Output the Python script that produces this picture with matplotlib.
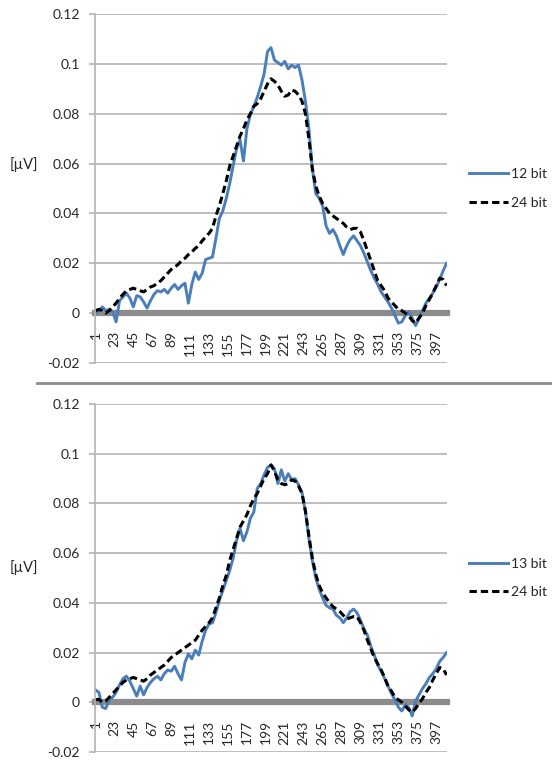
import numpy as np
import matplotlib
matplotlib.use("Agg")
import matplotlib.pyplot as plt
from matplotlib.lines import Line2D

plt.rcParams['font.family'] = ['Lato', 'DejaVu Sans']

# sample index of every value below (one reading every 4 samples)
samples = list(range(1, 410, 4))

x_ticks = list(range(1, 398, 22))
x_tick_labels = [str(t) for t in x_ticks]
y_ticks = [-0.02, 0, 0.02, 0.04, 0.06, 0.08, 0.1, 0.12]
y_tick_labels = ["-0.02", "0", "0.02", "0.04", "0.06", "0.08", "0.1", "0.12"]

top_12bit = [
    0.000, 0.001, 0.0025, 0.001, 0.0015, 0.0005, -0.0035, 0.005, 0.0065, 0.008,
    0.006, 0.0025, 0.007, 0.0065, 0.0045, 0.002, 0.005, 0.0075, 0.009, 0.0085,
    0.0095, 0.008, 0.010, 0.0115, 0.0095, 0.011, 0.012, 0.004, 0.0115, 0.0165,
    0.0135, 0.016, 0.0215, 0.022, 0.0225, 0.030, 0.038, 0.041, 0.046, 0.052,
    0.059, 0.066, 0.0695, 0.061, 0.074, 0.0795, 0.083, 0.0865, 0.091, 0.096,
    0.105, 0.1065, 0.1015, 0.1005, 0.0995, 0.101, 0.098, 0.0995, 0.0985, 0.0995,
    0.0935, 0.085, 0.074, 0.058, 0.048, 0.046, 0.043, 0.035, 0.032, 0.0335,
    0.031, 0.027, 0.0235, 0.027, 0.0295, 0.031, 0.029, 0.027, 0.024, 0.0205,
    0.017, 0.014, 0.0115, 0.0085, 0.0065, 0.0045, 0.002, -0.001, -0.004, -0.0035,
    -0.001, 0.0005, -0.002, -0.005, -0.002, 0.001, 0.004, 0.006, 0.008, 0.0105,
    0.0135, 0.017, 0.020,
]

top_24bit = [
    0.001, 0.0015, 0.001, 0.000, 0.001, 0.0025, 0.004, 0.006, 0.0075, 0.009,
    0.0095, 0.010, 0.0095, 0.009, 0.0085, 0.0095, 0.0105, 0.011, 0.012, 0.013,
    0.0145, 0.016, 0.0175, 0.0185, 0.0195, 0.021, 0.022, 0.0235, 0.0245, 0.026,
    0.027, 0.029, 0.0305, 0.032, 0.034, 0.039, 0.043, 0.048, 0.053, 0.059,
    0.063, 0.067, 0.071, 0.074, 0.0775, 0.080, 0.083, 0.084, 0.086, 0.089,
    0.092, 0.094, 0.093, 0.0915, 0.089, 0.087, 0.0875, 0.0895, 0.089, 0.0875,
    0.085, 0.080, 0.070, 0.058, 0.051, 0.047, 0.044, 0.042, 0.040, 0.039,
    0.038, 0.037, 0.036, 0.0345, 0.0335, 0.034, 0.034, 0.0325, 0.029, 0.025,
    0.021, 0.017, 0.013, 0.011, 0.009, 0.006, 0.0045, 0.003, 0.0015, 0.001,
    0.000, -0.001, -0.003, -0.004, -0.002, 0.000, 0.003, 0.0055, 0.008, 0.011,
    0.014, 0.0135, 0.011,
]

bottom_13bit = [
    0.005, 0.004, -0.002, -0.0025, 0.001, 0.002, 0.004, 0.007, 0.0095, 0.0105,
    0.0085, 0.0055, 0.0025, 0.0065, 0.003, 0.006, 0.008, 0.0095, 0.0105, 0.009,
    0.0115, 0.013, 0.0125, 0.0145, 0.0115, 0.009, 0.016, 0.0195, 0.0175, 0.021,
    0.019, 0.0245, 0.029, 0.0315, 0.032, 0.036, 0.041, 0.045, 0.049, 0.053,
    0.058, 0.065, 0.070, 0.065, 0.0685, 0.074, 0.0765, 0.086, 0.088, 0.0915,
    0.0945, 0.0955, 0.094, 0.088, 0.0935, 0.089, 0.092, 0.0895, 0.090, 0.0875,
    0.0845, 0.0765, 0.066, 0.057, 0.050, 0.0455, 0.042, 0.039, 0.038, 0.0375,
    0.035, 0.034, 0.032, 0.034, 0.0365, 0.0375, 0.036, 0.033, 0.0295, 0.027,
    0.0225, 0.019, 0.015, 0.0125, 0.0095, 0.0065, 0.0035, 0.001, -0.002, -0.0035,
    -0.001, -0.002, -0.0055, 0.0005, 0.003, 0.0055, 0.0075, 0.010, 0.0115, 0.0135,
    0.0165, 0.018, 0.020,
]

bottom_24bit = [
    0.001, 0.0012, 0.000, 0.0005, 0.002, 0.0035, 0.005, 0.0065, 0.008, 0.009,
    0.0095, 0.010, 0.0095, 0.009, 0.0085, 0.0095, 0.011, 0.012, 0.013, 0.014,
    0.015, 0.0165, 0.018, 0.019, 0.020, 0.021, 0.022, 0.023, 0.024, 0.025,
    0.027, 0.029, 0.0305, 0.032, 0.034, 0.038, 0.042, 0.047, 0.051, 0.057,
    0.0615, 0.066, 0.0705, 0.073, 0.0755, 0.079, 0.082, 0.084, 0.087, 0.090,
    0.092, 0.0955, 0.093, 0.0895, 0.088, 0.0875, 0.088, 0.0895, 0.089, 0.087,
    0.084, 0.077, 0.067, 0.058, 0.0515, 0.047, 0.044, 0.042, 0.040, 0.0385,
    0.0375, 0.0365, 0.035, 0.0335, 0.034, 0.0345, 0.0345, 0.032, 0.029, 0.025,
    0.0215, 0.018, 0.0155, 0.013, 0.010, 0.0065, 0.0045, 0.002, 0.001, 0.000,
    -0.0015, -0.003, -0.004, -0.0025, -0.0005, 0.0015, 0.004, 0.006, 0.009, 0.0115,
    0.014, 0.0135, 0.011,
]

BLUE = '#4a7ebb'
GRID = '#b3b3b3'
TEXT = '#262626'


def draw_panel(ax, blue_vals, black_vals, blue_label):
    ax.plot(samples, blue_vals, color=BLUE, linewidth=2.1, label=blue_label,
            solid_joinstyle='round')
    ax.plot(samples, black_vals, color='black', linewidth=2.2, dashes=(2.4, 1.3),
            label='24 bit')

    ax.set_xlim(0.5, 409.5)
    ax.set_ylim(-0.02, 0.12)
    ax.set_yticks(y_ticks)
    ax.set_yticklabels(y_tick_labels)
    ax.set_xticks(x_ticks)
    ax.set_xticklabels(x_tick_labels)

    ax.yaxis.grid(True, color=GRID, linewidth=1.2)
    ax.set_axisbelow(True)
    for side in ('top', 'right'):
        ax.spines[side].set_visible(False)
    ax.spines['left'].set_color(GRID)
    ax.spines['left'].set_linewidth(1.2)
    ax.spines['bottom'].set_position(('data', 0))
    ax.spines['bottom'].set_color('#8c8c8c')
    ax.spines['bottom'].set_linewidth(4.5)
    ax.spines['bottom'].set_zorder(1)

    ax.tick_params(axis='y', length=4, width=1.2, color=GRID, labelsize=10,
                   labelcolor=TEXT, pad=7)
    ax.tick_params(axis='x', length=0, labelsize=10, labelcolor=TEXT, pad=13,
                   labelrotation=90)

    ax.legend(loc='center left', bbox_to_anchor=(1.047, 0.5), frameon=False,
              fontsize=10, handlelength=2.8, handletextpad=0.2, labelspacing=1.2,
              borderaxespad=0, labelcolor=TEXT)


fig = plt.figure(figsize=(5.52, 7.6), dpi=100)
ax_top = fig.add_axes([0.1721, 0.5224, 0.6377, 0.4592])
ax_bot = fig.add_axes([0.1721, 0.0105, 0.6377, 0.4579])

draw_panel(ax_top, top_12bit, top_24bit, '12 bit')
draw_panel(ax_bot, bottom_13bit, bottom_24bit, '13 bit')

fig.text(10 / 552, 1 - 165 / 760, '[µV]', fontsize=10.5, color=TEXT, va='center', ha='left')
fig.text(10 / 552, 1 - 568 / 760, '[µV]', fontsize=10.5, color=TEXT, va='center', ha='left')

# separator between the two charts
fig.add_artist(Line2D([37 / 552, 1.0], [1 - 383 / 760, 1 - 383 / 760],
                      transform=fig.transFigure, color='#8c8c8c', linewidth=2))

fig.savefig('out.png', dpi=100)
